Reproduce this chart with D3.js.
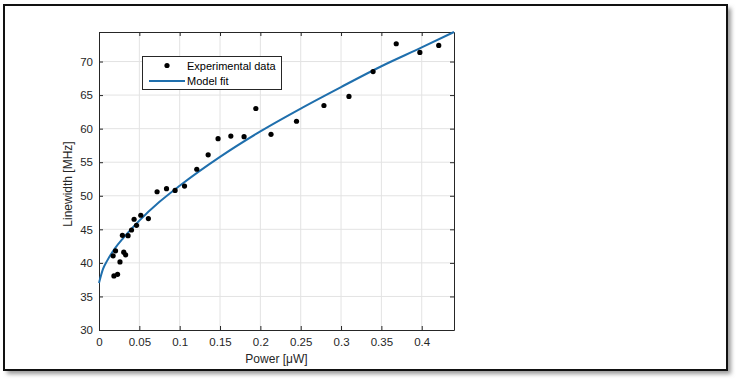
<!DOCTYPE html>
<html><head><meta charset="utf-8">
<script src="https://cdn.jsdelivr.net/npm/d3@7/dist/d3.min.js"></script>
<style>body{margin:0;background:#fff;} svg{display:block;}</style>
</head><body>
<svg id="c" width="739" height="383"></svg>
<script>
// ---- data ----
const power = [0.0175,0.0205,0.0185,0.0230,0.0260,0.0290,0.0307,0.0330,0.0360,0.0403,0.0435,0.0465,0.0518,0.0612,0.0720,0.0837,0.0943,0.1060,0.1212,0.1353,0.1476,0.1634,0.1798,0.1944,0.2132,0.2448,0.2788,0.3098,0.3397,0.3684,0.3977,0.4211];
const linewidth = [41.05,41.8,38.05,38.3,40.15,44.1,41.6,41.2,44.05,44.9,46.5,45.6,47.1,46.6,50.6,51.05,50.8,51.45,53.95,56.1,58.5,58.9,58.8,63.0,59.15,61.1,63.45,64.8,68.5,72.65,71.35,72.4];
const fitPower = [0,0.005,0.01,0.02,0.03,0.05,0.075,0.1,0.15,0.2,0.25,0.3,0.35,0.4,0.44];
const fitLinewidth = [37.0,39.1,40.3,42.2,43.7,46.3,49.1,51.5,55.8,59.6,63.0,66.2,69.3,72.1,74.4];
const xTicks = [0,0.05,0.1,0.15,0.2,0.25,0.3,0.35,0.4];
const xTickLabels = ["0","0.05","0.1","0.15","0.2","0.25","0.3","0.35","0.4"];
const yTicks = [30,35,40,45,50,55,60,65,70];
const legendLabels = ["Experimental data","Model fit"];

const svg = d3.select("#c");
const font = "'Liberation Sans', Arial, sans-serif";
const axisCol = "#262626";
const blue = "#1f6fad";

// frame with shadow
const defs = svg.append("defs");
const f = defs.append("filter").attr("id","sh").attr("x","-5%").attr("y","-5%").attr("width","110%").attr("height","115%");
f.append("feGaussianBlur").attr("stdDeviation",2);
svg.append("rect").attr("x",7).attr("y",8).attr("width",724).attr("height",366).attr("fill","#9a9a9a").attr("filter","url(#sh)");
svg.append("rect").attr("x",4).attr("y",5).attr("width",723).attr("height",365).attr("fill","#fff").attr("stroke","#111").attr("stroke-width",2);

const L = 99, R = 454, T = 32, B = 330;
const x = d3.scaleLinear().domain([0,0.44]).range([L,R]);
const y = d3.scaleLinear().domain([30,74.4]).range([B,T]);

const g = svg.append("g");
// grid
g.selectAll(".gx").data(xTicks.slice(1)).join("line")
  .attr("x1",d=>x(d)).attr("x2",d=>x(d)).attr("y1",T).attr("y2",B)
  .attr("stroke","#e3e3e3").attr("stroke-width",1);
g.selectAll(".gy").data(yTicks.slice(1)).join("line")
  .attr("y1",d=>y(d)).attr("y2",d=>y(d)).attr("x1",L).attr("x2",R)
  .attr("stroke","#e3e3e3").attr("stroke-width",1);

// axes
const xa = svg.append("g").attr("transform",`translate(0,${B})`)
  .call(d3.axisBottom(x).tickValues(xTicks).tickFormat((d,i)=>xTickLabels[i]).tickSizeInner(-4).tickSizeOuter(0).tickPadding(8));
const xt = svg.append("g").attr("transform",`translate(0,${T})`)
  .call(d3.axisTop(x).tickValues(xTicks).tickFormat("").tickSizeInner(-4).tickSizeOuter(0));
const ya = svg.append("g").attr("transform",`translate(${L},0)`)
  .call(d3.axisLeft(y).tickValues(yTicks).tickSizeInner(-4).tickSizeOuter(0).tickPadding(6));
const yr = svg.append("g").attr("transform",`translate(${R},0)`)
  .call(d3.axisRight(y).tickValues(yTicks).tickFormat("").tickSizeInner(-4).tickSizeOuter(0));
[xa,xt,ya,yr].forEach(a=>{
  a.select(".domain").attr("stroke",axisCol).attr("stroke-width",1);
  a.selectAll(".tick line").attr("stroke",axisCol);
  a.selectAll(".tick text").attr("fill",axisCol).attr("font-family",font).attr("font-size",11.5);
});

// fit line
svg.append("path").datum(fitPower.map((p,i)=>[p,fitLinewidth[i]]))
  .attr("d",d3.line().x(d=>x(d[0])).y(d=>y(d[1])).curve(d3.curveMonotoneX))
  .attr("fill","none").attr("stroke",blue).attr("stroke-width",2);

// points
svg.selectAll(".pt").data(power.map((p,i)=>[p,linewidth[i]])).join("circle")
  .attr("cx",d=>x(d[0])).attr("cy",d=>y(d[1])).attr("r",2.6).attr("fill","#000");

// axis labels
svg.append("text").attr("x",(L+R)/2).attr("y",363).attr("text-anchor","middle")
  .attr("font-family",font).attr("font-size",12).attr("fill",axisCol).text("Power [μW]");
svg.append("text").attr("transform",`translate(72,${(T+B)/2+3}) rotate(-90)`).attr("text-anchor","middle")
  .attr("font-family",font).attr("font-size",12).attr("fill",axisCol).text("Linewidth [MHz]");

// legend
const lg = svg.append("g");
lg.append("rect").attr("x",142.5).attr("y",56.5).attr("width",139).attr("height",33)
  .attr("fill","#fff").attr("stroke",axisCol).attr("stroke-width",1);
lg.append("circle").attr("cx",167).attr("cy",65.5).attr("r",2.6).attr("fill","#000");
lg.append("line").attr("x1",149).attr("x2",185).attr("y1",81).attr("y2",81).attr("stroke",blue).attr("stroke-width",2);
lg.selectAll(".lt").data(legendLabels).join("text")
  .attr("x",187).attr("y",(d,i)=>69.5+i*15.5)
  .attr("font-family",font).attr("font-size",11).attr("fill","#000").text(d=>d);
</script>
</body></html>
